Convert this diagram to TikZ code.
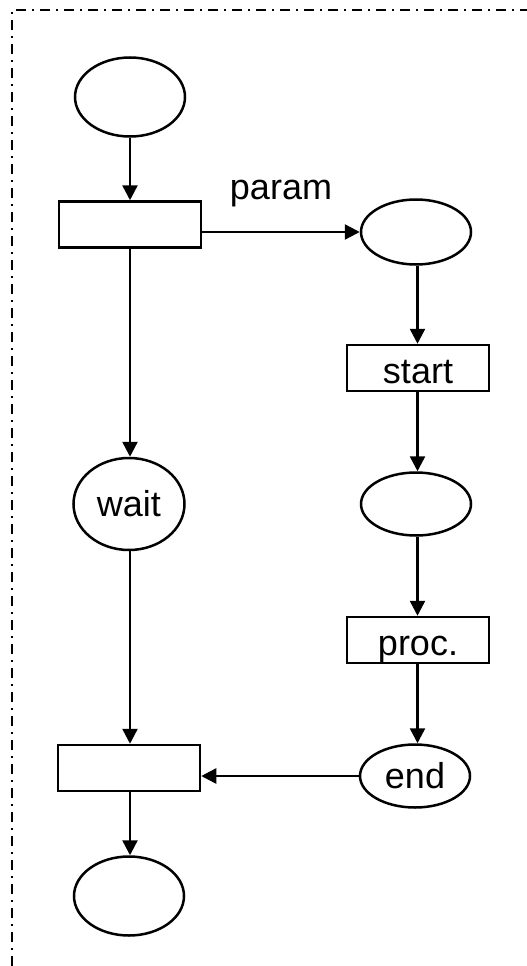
\documentclass[tikz,border=0pt]{standalone}
\usepackage{fontspec}
\setmainfont{Liberation Sans}
\usetikzlibrary{shapes.geometric,arrows.meta}
\begin{document}
\begin{tikzpicture}[x=1pt,y=-1pt,
  every node/.style={font=\fontsize{36}{40}\selectfont},
  place/.style={draw,line width=2.5pt,ellipse,inner sep=0pt,minimum width=110pt,minimum height=63pt,text height=25pt,text depth=0pt},
  trans/.style={draw,line width=2.5pt,rectangle,inner sep=0pt,minimum width=142pt,minimum height=46pt,text height=30pt,text depth=0pt},
  arc/.style={line width=2.5pt,-{Triangle[length=15pt,width=15pt]}},
  frame/.style={line width=2pt,dash pattern=on 10pt off 6pt on 2pt off 6pt}]
\useasboundingbox (0,0) rectangle (527,966);
\draw[frame] (12,966) -- (12,10) -- (527,10);
\node[place,minimum height=79pt] (p1) at (130,97) {};
\node[trans] (t1) at (130,224.5) {};
\node[place,minimum height=65pt] (p2) at (416,232) {};
\node[trans] (t2) at (418,368) {start};
\node[place] (p3) at (416,504) {};
\node[trans] (t3) at (418,640) {proc.};
\node[place] (p4) at (415,776) {end};
\node[place,minimum width=111pt,minimum height=92pt] (pw) at (129,504) {wait};
\node[trans] (t4) at (129,768) {};
\node[place,minimum height=79pt] (p5) at (129,896) {};
\draw[arc] (p1.south -| 130,0) -- (t1.north -| 130,0);
\draw[arc] (p2.west -| t1.east) -- node[anchor=base,inner sep=0pt,yshift=33pt] (lab) {param} (p2.west);
\draw[arc] (t1.south -| 130,0) -- (pw.north -| 130,0);
\draw[arc] (pw.south -| 130,0) -- (t4.north -| 130,0);
\draw[arc] (t4.south -| 130,0) -- (p5.north -| 130,0);
\draw[arc] (p2.south -| 417.5,0) -- (t2.north -| 417.5,0);
\draw[arc] (t2.south -| 417.5,0) -- (p3.north -| 417.5,0);
\draw[arc] (p3.south -| 417.5,0) -- (t3.north -| 417.5,0);
\draw[arc] (t3.south -| 417.5,0) -- (p4.north -| 417.5,0);
\draw[arc] (p4.west) -- (p4.west -| t4.east);
\end{tikzpicture}
\end{document}
